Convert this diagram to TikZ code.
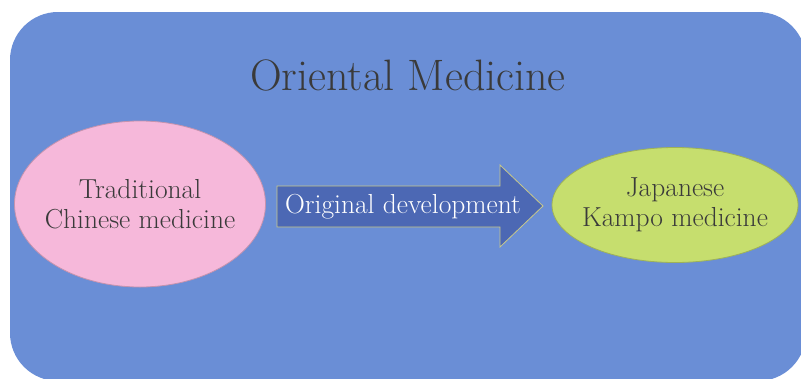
\documentclass[tikz,border=0pt]{standalone}
\usepackage{tikz}
\usetikzlibrary{shapes,positioning}

\definecolor{panelblue}{HTML}{6A8ED6}
\definecolor{arrowblue}{HTML}{4C68B4}
\definecolor{arrowedge}{HTML}{C9C98A}
\definecolor{tcmpink}{HTML}{F6B8DA}
\definecolor{kampogreen}{HTML}{C6DE6E}
\definecolor{inkgray}{HTML}{3A3A3A}

\tikzset{
  medfont/.style={font=\fontsize{27.5}{30}\selectfont},
  medblob/.style={ellipse, draw=#1!80!black, fill=#1, line width=0.8pt, inner sep=0pt},
  medtext/.style={medfont, text=inkgray, align=center, inner sep=0pt},
}

\begin{document}
\begin{tikzpicture}[x=1pt,y=-1pt]
\useasboundingbox (0,0) rectangle (801,378);
% Background panel
\begin{scope}
\clip (0,0) rectangle (801,378);
\fill[panelblue, rounded corners=48pt] (10,12) rectangle (806,381);
\end{scope}
% Title
\node[anchor=base, font=\fontsize{44}{48}\selectfont, text=inkgray] (title) at (408,90) {Oriental Medicine};
% Ellipses
\node[medblob=tcmpink, minimum width=251pt, minimum height=166pt] (tcm) at (140,204) {};
\node[medtext] (tcmtext) at (tcm.center) {Traditional\\Chinese medicine};
\node[medblob=kampogreen, minimum width=246pt, minimum height=115pt] (kampo) at (675,205) {};
\node[medtext] (kampotext) at (kampo.center) {Japanese\\Kampo medicine};
% Block arrow
\coordinate (tail) at (277,206);
\coordinate (tip) at (543,206);
\fill[arrowblue, draw=arrowedge, line width=0.8pt]
  (tail) ++(0,-20) -- (500,186) -- (500,165) -- (tip) -- (500,247) -- (500,227) -- (277,227) -- cycle;
\node[medfont, text=white] (dev) at (403,207) {Original development};
\end{tikzpicture}
\end{document}
